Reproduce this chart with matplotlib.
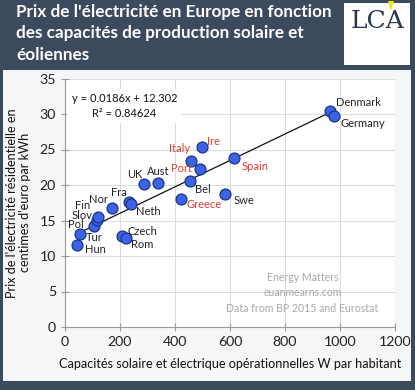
import matplotlib
matplotlib.use('Agg')
from matplotlib import pyplot as plt
from matplotlib.patches import Rectangle, Polygon

plt.rcParams['font.family'] = ['Lato', 'DejaVu Sans']

# data
countries = ['Hun', 'Pol', 'Tur', 'Slov', 'Fin', 'Nor', 'Fra', 'Neth', 'Czech', 'Rom',
             'UK', 'Aust', 'Greece', 'Bel', 'Italy', 'Port', 'Ire', 'Swe', 'Spain',
             'Denmark', 'Germany']
capacity = [42, 55, 105, 115, 119, 170, 234, 239, 207, 221,
            286, 337, 421, 453, 457, 492, 499, 583, 615,
            964, 979]
price = [11.6, 13.1, 14.2, 15.1, 15.5, 16.7, 17.6, 17.3, 12.8, 12.6,
         20.1, 20.3, 18.0, 20.5, 23.4, 22.3, 25.4, 18.8, 23.8,
         30.4, 29.7]
highlight = ['Italy', 'Ire', 'Port', 'Spain', 'Greece']
slope, intercept, r2 = 0.0186, 12.302, 0.84624
fit_range = [55, 975]

# label offsets in pixels (dx, dy) and horizontal alignment
label_pos = {
    'Hun': (8, -5, 'left'), 'Pol': (-4, 9, 'center'), 'Tur': (0, -11, 'center'),
    'Slov': (-15, 4, 'center'), 'Fin': (-15, 11, 'center'), 'Nor': (-13, 9, 'center'),
    'Fra': (-10, 10, 'center'), 'Neth': (18, -7, 'center'), 'Czech': (6, 5, 'left'),
    'Rom': (5, -7, 'left'), 'UK': (-9, 10, 'center'), 'Aust': (1, 11, 'center'),
    'Greece': (6, -5, 'left'), 'Bel': (13, -8, 'center'), 'Italy': (-11, 12, 'center'),
    'Port': (-19, 0, 'center'), 'Ire': (11, 5, 'center'), 'Swe': (8, -7, 'left'),
    'Spain': (7, -8, 'left'), 'Denmark': (6, 9, 'left'), 'Germany': (6, -7, 'left'),
}

bg = '#3b4a5d'
fig = plt.figure(figsize=(4.15, 3.9), dpi=100, facecolor=bg)

# light panel behind the chart
panel = Rectangle((3 / 415, 9 / 390), 408 / 415, 311 / 390,
                  transform=fig.transFigure, facecolor='#f5f6f7',
                  edgecolor='none', zorder=-1)
fig.add_artist(panel)

# title
fig.text(16 / 415, 1 - 4 / 390, "Prix de l'électricité en Europe en fonction\n"
         "des capacités de production solaire et\néoliennes",
         color='white', fontsize=12.3, fontweight='bold', va='top', ha='left',
         linespacing=1.42)

# LCA logo
fig.add_artist(Rectangle((344 / 415, 1 - 65 / 390), 66 / 415, 62 / 390,
                         transform=fig.transFigure, facecolor='white',
                         edgecolor='none', zorder=1))
fig.text(378 / 415, 1 - 21 / 390, 'LCA', family='DejaVu Serif', fontsize=18,
         color='#2b3550', ha='center', va='center', zorder=3)
fig.add_artist(Polygon([(388 / 415, 1 - 1 / 390), (394 / 415, 1 - 1 / 390),
                        (391 / 415, 1 - 11 / 390)], closed=True,
                       transform=fig.transFigure, facecolor='#f2e600',
                       edgecolor='none', zorder=4))

ax = fig.add_axes([65 / 415, 63 / 390, 330 / 415, 248.5 / 390])
ax.set_zorder(2)
ax.set_facecolor('white')
ax.set_xlim(0, 1200)
ax.set_ylim(0, 35)
ax.set_xticks(range(0, 1201, 200))
ax.set_yticks(range(0, 36, 5))
ax.grid(True, color='#dcdcdc', linewidth=0.8)
ax.set_axisbelow(True)
for s in ['top', 'right']:
    ax.spines[s].set_visible(False)
for s in ['left', 'bottom']:
    ax.spines[s].set_color('#9a9a9a')
ax.tick_params(colors='#9a9a9a', labelcolor='#222222', labelsize=10.2,
               direction='inout', length=6)
ax.set_xlabel('Capacités solaire et électrique opérationnelles W par habitant',
              fontsize=9.1, color='#111111', labelpad=7)
ax.set_ylabel("Prix de l'électricité résidentielle en\ncentimes d'euro par kWh",
              fontsize=9.1, color='#111111', labelpad=6, linespacing=1.1)

ax.plot(fit_range, [slope * v + intercept for v in fit_range], color='#111111',
        linewidth=0.9, zorder=2)
ax.scatter(capacity, price, s=62, color='#3b63e6', edgecolor='#1d3487',
           linewidth=0.9, zorder=3)

for name, xv, yv in zip(countries, capacity, price):
    dx, dy, ha = label_pos[name]
    col = '#dd3b33' if name in highlight else '#222222'
    ax.annotate(name, (xv, yv), xytext=(dx, dy), textcoords='offset pixels',
                ha=ha, va='center', fontsize=8, color=col, zorder=4)

ax.text(0.18, 0.89, 'y = %.4fx + %.3f\nR² = %.5f' % (slope, intercept, r2),
        transform=ax.transAxes, ha='center', va='center', fontsize=8,
        color='#111111', linespacing=1.4,
        bbox=dict(facecolor='white', edgecolor='none', pad=3))

ax.text(0.72, 0.137, 'Energy Matters\neuanmearns.com\nData from BP 2015 and Eurostat',
        transform=ax.transAxes, ha='center', va='center', fontsize=7.6,
        color='#a8a8a8', linespacing=1.5)

fig.savefig('out.png', dpi=100, facecolor=bg)
